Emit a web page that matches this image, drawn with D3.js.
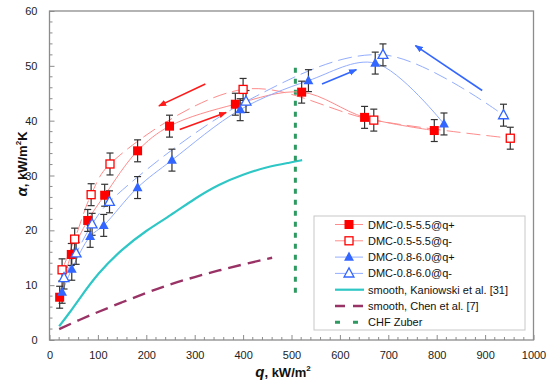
<!DOCTYPE html>
<html>
<head>
<meta charset="utf-8">
<script src="https://cdn.jsdelivr.net/npm/d3@7"></script>
<style>
  body { margin: 0; background: #fff; }
  text { font-family: Arial, "Liberation Sans", sans-serif; }
</style>
</head>
<body>
<svg id="chart" width="550" height="390"></svg>
<script>
// values
var redPlusQ  = [21, 45, 79, 114, 182, 248, 384, 521, 651, 795];
var redPlusA  = [7.8, 15.6, 21.8, 26.4, 34.5, 39.0, 43.0, 45.2, 40.6, 38.2];
var redMinusQ = [26, 52, 86, 125, 400, 670, 952];
var redMinusA = [12.8, 18.4, 26.5, 32.1, 45.7, 40.1, 36.8];
var bluePlusQ = [26, 46, 84, 112, 182, 253, 394, 535, 673, 815];
var bluePlusA = [8.7, 12.9, 18.9, 20.9, 27.8, 32.8, 42.0, 47.3, 50.5, 39.4];
var blueMinusQ = [30, 55, 88, 124, 406, 689, 938];
var blueMinusA = [11.3, 15.8, 21.1, 25.2, 43.5, 52.0, 41.0];
var errAlpha = 2.0;

var kanQ = [20, 40, 60, 100, 150, 200, 250, 300, 350, 400, 450, 500, 522];
var kanA = [2.5, 4.8, 7.3, 12.2, 16.6, 20.0, 22.7, 25.8, 28.4, 30.2, 31.6, 32.4, 32.8];
var chenQ = [20, 60, 100, 150, 200, 250, 300, 350, 400, 460];
var chenA = [2.0, 3.6, 5.1, 6.9, 8.6, 10.2, 11.5, 12.7, 13.8, 15.0];
var zuberQ = 508;
var zuberA = [8.6, 50];

var xTicks = [0, 100, 200, 300, 400, 500, 600, 700, 800, 900, 1000];
var yTicks = [0, 10, 20, 30, 40, 50, 60];

// arrows: [q1, a1, q2, a2]
var redArrows = [[322, 46.7, 226, 42.7], [269, 38.4, 365, 41.5]];
var blueArrows = [[563, 46.7, 634, 49.3], [894, 45.5, 756, 53.7]];

var svg = d3.select("#chart");
var plotL = 49.5, plotR = 533.5, plotT = 11, plotB = 340;

var x = d3.scaleLinear().domain([0, 1000]).range([plotL, plotR]);
var y = d3.scaleLinear().domain([0, 60]).range([plotB, plotT]);

var defs = svg.append("defs");
function addArrowMarker(id, color) {
  defs.append("marker")
    .attr("id", id)
    .attr("viewBox", "0 0 10 10")
    .attr("refX", 9).attr("refY", 5)
    .attr("markerWidth", 8).attr("markerHeight", 8)
    .attr("markerUnits", "userSpaceOnUse")
    .attr("orient", "auto")
    .append("path")
    .attr("d", "M0,1 L10,5 L0,9 Z")
    .attr("fill", color);
}
addArrowMarker("arrowRed", "#ff1a1a");
addArrowMarker("arrowBlue", "#3366ff");

// frame
svg.append("rect")
  .attr("x", plotL).attr("y", plotT)
  .attr("width", plotR - plotL).attr("height", plotB - plotT)
  .attr("fill", "none").attr("stroke", "#8c8c8c").attr("stroke-width", 1.3);

// ticks (inside)
var xAxis = d3.axisBottom(x).tickValues(xTicks).tickSize(-5).tickPadding(11)
  .tickFormat(d3.format("d"));
var gx = svg.append("g").attr("transform", "translate(0," + plotB + ")").call(xAxis);
gx.select(".domain").remove();
gx.selectAll(".tick line").attr("stroke", "#8c8c8c");
gx.selectAll("text").attr("font-size", 11).attr("fill", "#222");

var xMinor = d3.range(0, 1001, 20).filter(d => d % 100 !== 0);
svg.append("g").selectAll("line").data(xMinor).enter().append("line")
  .attr("x1", d => x(d)).attr("x2", d => x(d))
  .attr("y1", plotB).attr("y2", plotB - 3)
  .attr("stroke", "#8c8c8c");

var yAxis = d3.axisLeft(y).tickValues(yTicks).tickSize(-5).tickPadding(12);
var gy = svg.append("g").attr("transform", "translate(" + plotL + ",0)").call(yAxis);
gy.select(".domain").remove();
gy.selectAll(".tick line").attr("stroke", "#8c8c8c");
gy.selectAll("text").attr("font-size", 11).attr("fill", "#222");

var yMinor = d3.range(0, 61, 2).filter(d => d % 10 !== 0);
svg.append("g").selectAll("line").data(yMinor).enter().append("line")
  .attr("x1", plotL).attr("x2", plotL + 3)
  .attr("y1", d => y(d)).attr("y2", d => y(d))
  .attr("stroke", "#8c8c8c");

// axis titles
var xt = svg.append("text")
  .attr("x", 283).attr("y", 377)
  .attr("text-anchor", "middle")
  .attr("font-size", 13).attr("font-weight", "bold").attr("fill", "#111");
xt.append("tspan").attr("font-style", "italic").attr("font-size", 15).text("q");
xt.append("tspan").text(", kW/m");
xt.append("tspan").attr("font-size", 8).attr("dy", -6).text("2");

var yt = svg.append("text")
  .attr("transform", "translate(27,164) rotate(-90)")
  .attr("text-anchor", "middle")
  .attr("font-size", 13).attr("font-weight", "bold").attr("fill", "#111");
yt.append("tspan").attr("font-style", "italic").attr("font-size", 15).text("α");
yt.append("tspan").text(", kW/m");
yt.append("tspan").attr("font-size", 8).attr("dy", -6).text("2");
yt.append("tspan").attr("dy", 6).text("K");

// helper
function pts(qs, as) { return qs.map((q, i) => ({q: q, a: as[i]})); }

var smooth = d3.line().x(d => x(d.q)).y(d => y(d.a)).curve(d3.curveCatmullRom.alpha(0.5));
var straight = d3.line().x(d => x(d.q)).y(d => y(d.a)).curve(d3.curveBasis);

var series = [
  {name: "DMC-0.5-5.5@q+", data: pts(redPlusQ, redPlusA), color: "#ff0000", line: "#ff8c8c", shape: "square", filled: true, dash: null},
  {name: "DMC-0.5-5.5@q-", data: pts(redMinusQ, redMinusA), color: "#ff0000", line: "#ff8c8c", shape: "square", filled: false, dash: "14,6"},
  {name: "DMC-0.8-6.0@q+", data: pts(bluePlusQ, bluePlusA), color: "#3366ff", line: "#93adff", shape: "triangle", filled: true, dash: null},
  {name: "DMC-0.8-6.0@q-", data: pts(blueMinusQ, blueMinusA), color: "#3366ff", line: "#93adff", shape: "triangle", filled: false, dash: "14,6"}
];

// Kaniowski smooth
svg.append("path")
  .datum(pts(kanQ, kanA))
  .attr("d", straight)
  .attr("fill", "none").attr("stroke", "#2fc6c6").attr("stroke-width", 2.2);

// Chen smooth (dashed)
svg.append("path")
  .datum(pts(chenQ, chenA))
  .attr("d", straight)
  .attr("fill", "none").attr("stroke", "#993366").attr("stroke-width", 2.4)
  .attr("stroke-dasharray", "13,7");

// CHF Zuber
svg.append("line")
  .attr("x1", x(zuberQ)).attr("x2", x(zuberQ))
  .attr("y1", y(zuberA[0])).attr("y2", y(zuberA[1]))
  .attr("stroke", "#2e9960").attr("stroke-width", 3)
  .attr("stroke-dasharray", "5,6");

// connecting lines
series.forEach(function(s) {
  svg.append("path")
    .datum(s.data)
    .attr("d", smooth)
    .attr("fill", "none").attr("stroke", s.line).attr("stroke-width", 1)
    .attr("stroke-dasharray", s.dash);
});

// arrows
function drawArrows(list, color, id) {
  svg.append("g").selectAll("line").data(list).enter().append("line")
    .attr("x1", d => x(d[0])).attr("y1", d => y(d[1]))
    .attr("x2", d => x(d[2])).attr("y2", d => y(d[3]))
    .attr("stroke", color).attr("stroke-width", 1.6)
    .attr("marker-end", "url(#" + id + ")");
}
drawArrows(redArrows, "#ff1a1a", "arrowRed");
drawArrows(blueArrows, "#3366ff", "arrowBlue");

// error bars
series.forEach(function(s) {
  var g = svg.append("g");
  s.data.forEach(function(d) {
    var cx = x(d.q), y1 = y(d.a + errAlpha), y2 = y(d.a - errAlpha);
    g.append("line").attr("x1", cx).attr("x2", cx).attr("y1", y1).attr("y2", y2)
      .attr("stroke", "#333").attr("stroke-width", 1.2);
    g.append("line").attr("x1", cx - 3.5).attr("x2", cx + 3.5).attr("y1", y1).attr("y2", y1)
      .attr("stroke", "#333").attr("stroke-width", 1.2);
    g.append("line").attr("x1", cx - 3.5).attr("x2", cx + 3.5).attr("y1", y2).attr("y2", y2)
      .attr("stroke", "#333").attr("stroke-width", 1.2);
  });
});

// markers
function drawMarker(g, s, cx, cy) {
  if (s.shape === "square") {
    var h = s.filled ? 4.5 : 4;
    g.append("rect")
      .attr("x", cx - h).attr("y", cy - h).attr("width", 2 * h).attr("height", 2 * h)
      .attr("fill", s.filled ? s.color : "#fff")
      .attr("stroke", s.color).attr("stroke-width", s.filled ? 0 : 1.3);
  } else {
    var r = 5.5;
    var p = [[cx, cy - r], [cx + r * 0.9, cy + r * 0.65], [cx - r * 0.9, cy + r * 0.65]];
    g.append("path")
      .attr("d", "M" + p.map(v => v.join(",")).join("L") + "Z")
      .attr("fill", s.filled ? s.color : "#fff")
      .attr("stroke", s.color).attr("stroke-width", s.filled ? 0 : 1.3);
  }
}
series.forEach(function(s) {
  var g = svg.append("g");
  s.data.forEach(d => drawMarker(g, s, x(d.q), y(d.a)));
});

// legend
var lg = svg.append("g");
lg.append("rect")
  .attr("x", 314).attr("y", 216).attr("width", 211).attr("height", 114)
  .attr("fill", "#fff").attr("stroke", "#c8c8c8");

var legendItems = series.map(s => ({name: s.name, s: s, kind: "series"}))
  .concat([
    {name: "smooth, Kaniowski et al. [31]", kind: "kan"},
    {name: "smooth, Chen et al. [7]", kind: "chen"},
    {name: "CHF Zuber", kind: "zuber"}
  ]);

legendItems.forEach(function(it, i) {
  var ly = 224.5 + i * 16.3;
  if (it.kind === "series") {
    lg.append("line").attr("x1", 335).attr("x2", 363).attr("y1", ly).attr("y2", ly)
      .attr("stroke", it.s.line).attr("stroke-width", 1);
    drawMarker(lg, it.s, 349, ly);
  } else if (it.kind === "kan") {
    lg.append("line").attr("x1", 335).attr("x2", 364).attr("y1", ly).attr("y2", ly)
      .attr("stroke", "#2fc6c6").attr("stroke-width", 2.2);
  } else if (it.kind === "chen") {
    lg.append("line").attr("x1", 335).attr("x2", 364).attr("y1", ly).attr("y2", ly)
      .attr("stroke", "#993366").attr("stroke-width", 2.4).attr("stroke-dasharray", "10,8");
  } else {
    lg.append("line").attr("x1", 335).attr("x2", 364).attr("y1", ly).attr("y2", ly)
      .attr("stroke", "#2e9960").attr("stroke-width", 3).attr("stroke-dasharray", "5,13");
  }
  lg.append("text").attr("x", 368).attr("y", ly + 4)
    .attr("font-size", 11).attr("fill", "#111").text(it.name);
});
</script>
</body>
</html>
